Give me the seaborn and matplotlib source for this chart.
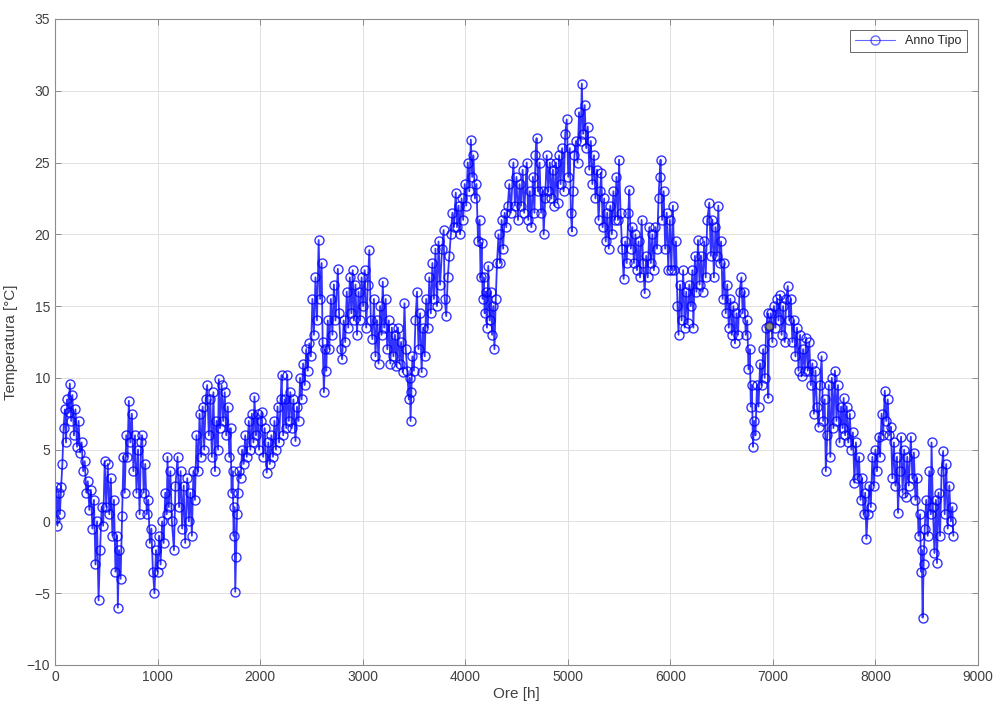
import matplotlib
matplotlib.use("Agg")
import matplotlib.pyplot as plt
import seaborn as sns
import pandas as pd

# Hourly temperature trace of the reference year, as (hour, °C) pairs, by period
gen_mar = [(0, 0.2), (12, 2.4), (24, -0.3), (36, 2.0), (48, 0.5), (60, 2.4), (72, 4.0), (84, 6.5),
           (96, 7.8), (108, 5.5), (120, 8.5), (132, 7.6), (145, 9.6), (158, 7.0), (170, 8.8), (185, 6.0),
           (200, 7.8), (215, 5.2), (230, 7.0), (245, 4.8), (260, 5.5), (275, 3.5), (290, 4.2), (305, 2.0),
           (320, 2.8), (335, 0.8), (350, 2.2), (365, -0.5), (380, 1.5), (395, -3.0), (410, 0.0), (425, -5.5),
           (440, -2.0), (455, 1.0), (470, -0.3), (485, 4.2), (500, 1.0), (515, 4.0), (530, 0.5), (545, 3.0),
           (560, -1.0), (575, 1.5), (590, -3.5), (605, -1.0), (613, -6.0), (625, -2.0), (640, -4.0), (655, 0.4),
           (668, 4.5), (680, 2.0), (695, 6.0), (707, 4.5), (720, 8.4), (735, 5.5), (750, 7.5), (765, 3.5),
           (780, 6.0), (795, 2.0), (810, 5.0), (825, 0.5), (840, 5.5), (850, 6.0), (865, 2.0), (880, 4.0),
           (895, 0.5), (910, 1.5), (925, -1.5), (940, -0.5), (955, -3.5), (970, -5.0), (985, -2.0), (1000, -3.5),
           (1015, -1.0), (1030, -3.0), (1045, 0.0), (1060, -1.5), (1075, 2.0), (1090, 0.5), (1097, 4.5),
           (1110, 1.0), (1125, 3.5), (1140, 0.0), (1160, -2.0), (1175, 2.5), (1195, 4.5), (1210, 1.0),
           (1225, 3.5), (1240, -0.5), (1255, 2.5), (1270, -1.5), (1290, 3.0), (1305, 0.0), (1320, 2.0),
           (1335, -1.0), (1350, 3.5), (1365, 1.5), (1380, 6.0), (1395, 3.5), (1410, 7.5), (1425, 4.5),
           (1440, 8.0), (1455, 5.0), (1470, 8.5), (1484, 9.5), (1500, 6.0)]

mar_mag = [(1515, 8.5), (1530, 4.5), (1545, 9.0), (1560, 3.5), (1575, 7.0), (1590, 5.0), (1597, 9.9),
           (1610, 6.5), (1625, 9.5), (1640, 7.0), (1655, 9.0), (1670, 6.0), (1685, 8.0), (1700, 4.5),
           (1712, 6.5), (1722, 2.0), (1732, 3.5), (1742, -1.0), (1750, 1.0), (1758, -4.9), (1766, -2.5),
           (1775, 0.5), (1785, 2.0), (1795, 3.5), (1810, 3.0), (1825, 5.0), (1840, 4.0), (1855, 6.0),
           (1870, 4.5), (1890, 7.0), (1905, 5.0), (1920, 7.5), (1935, 5.5), (1945, 8.7), (1960, 6.0),
           (1975, 7.5), (1990, 5.0), (2005, 7.0), (2016, 7.6), (2030, 4.5), (2045, 6.5), (2065, 3.4),
           (2080, 5.5), (2095, 4.0), (2110, 6.0), (2125, 4.5), (2140, 7.0), (2155, 5.0), (2170, 8.0),
           (2185, 5.5), (2200, 8.5), (2210, 10.2), (2225, 6.0), (2240, 8.5), (2255, 6.5), (2265, 10.2),
           (2280, 7.0), (2295, 9.0), (2310, 6.5), (2325, 8.5), (2345, 5.6), (2360, 8.0), (2375, 7.0),
           (2390, 10.0), (2405, 8.5), (2420, 11.0), (2435, 9.5), (2450, 12.0), (2465, 10.5), (2480, 12.4),
           (2495, 11.5), (2510, 15.5), (2525, 13.0), (2540, 17.0), (2555, 14.0), (2571, 19.6), (2585, 15.5),
           (2600, 18.0), (2610, 12.5), (2622, 9.0), (2635, 12.0), (2645, 10.5), (2660, 14.0), (2675, 12.0),
           (2690, 15.5), (2705, 13.0), (2720, 16.5), (2735, 14.0), (2758, 17.6), (2770, 14.5), (2785, 12.0),
           (2800, 11.3), (2815, 14.0), (2830, 12.5), (2845, 16.0), (2860, 13.5), (2875, 17.0), (2890, 14.5),
           (2903, 17.5), (2915, 14.0), (2930, 16.5), (2945, 13.0), (2960, 16.0), (2975, 14.0), (2990, 17.0)]

mag_lug = [(3005, 15.0), (3020, 17.5), (3035, 13.5), (3050, 16.5), (3065, 18.9), (3080, 14.0),
           (3095, 12.7), (3110, 15.5), (3125, 11.5), (3140, 14.0), (3155, 11.0), (3170, 15.0), (3185, 13.0),
           (3196, 16.7), (3210, 13.5), (3225, 15.5), (3240, 12.0), (3255, 14.0), (3270, 11.0), (3285, 13.5),
           (3300, 11.5), (3315, 13.0), (3330, 10.8), (3345, 13.5), (3360, 11.0), (3375, 12.5), (3390, 10.4),
           (3408, 15.2), (3420, 12.0), (3435, 10.5), (3450, 8.5), (3460, 10.0), (3467, 7.0), (3475, 9.0),
           (3485, 11.5), (3500, 10.5), (3515, 14.0), (3530, 16.0), (3545, 12.0), (3560, 14.5), (3575, 10.4),
           (3590, 13.5), (3605, 11.5), (3620, 15.5), (3635, 13.5), (3650, 17.0), (3665, 14.5), (3680, 18.0),
           (3695, 15.5), (3710, 19.0), (3725, 15.0), (3740, 19.5), (3755, 16.5), (3775, 19.0), (3790, 20.3),
           (3800, 15.5), (3815, 14.3), (3830, 17.0), (3845, 18.5), (3860, 20.0), (3875, 21.5), (3890, 20.5),
           (3908, 22.9), (3920, 20.5), (3935, 22.0), (3950, 20.0), (3965, 22.5), (3980, 21.0), (3995, 23.5),
           (4010, 22.0), (4025, 25.0), (4040, 23.0), (4055, 26.6), (4068, 24.0), (4080, 25.5), (4095, 22.5),
           (4110, 23.5), (4125, 19.5), (4140, 21.0), (4150, 17.0), (4160, 19.4), (4170, 15.5), (4180, 17.0),
           (4190, 14.5), (4200, 16.0), (4212, 13.5), (4225, 17.8), (4238, 14.0), (4250, 16.0), (4262, 13.0),
           (4275, 15.0), (4285, 12.0), (4298, 15.5), (4310, 18.0), (4325, 20.0), (4340, 18.0), (4355, 21.0),
           (4370, 19.0), (4385, 21.5), (4400, 20.5), (4415, 22.0), (4430, 23.5), (4445, 21.5), (4470, 25.0),
           (4485, 22.0), (4500, 24.0), (4515, 21.0), (4530, 23.5), (4545, 22.0), (4560, 24.5), (4575, 21.5),
           (4600, 25.0)]

lug_set = [(4615, 21.0), (4630, 23.0), (4645, 20.5), (4660, 24.0), (4675, 21.5), (4685, 25.5),
           (4696, 26.7), (4710, 23.0), (4725, 25.0), (4740, 21.5), (4755, 23.0), (4765, 20.0), (4780, 22.5),
           (4795, 25.5), (4810, 23.0), (4825, 25.0), (4840, 22.5), (4855, 24.5), (4870, 22.0), (4885, 25.0),
           (4900, 22.2), (4915, 25.5), (4930, 23.5), (4945, 26.0), (4960, 23.0), (4975, 27.0), (4990, 28.0),
           (5005, 24.0), (5020, 26.0), (5030, 21.5), (5040, 20.2), (5052, 23.0), (5065, 25.5), (5080, 26.5),
           (5095, 25.0), (5110, 28.5), (5125, 26.5), (5137, 30.5), (5150, 27.0), (5165, 29.0), (5180, 26.0),
           (5195, 27.5), (5210, 24.5), (5225, 26.5), (5240, 23.5), (5255, 25.5), (5270, 22.5), (5285, 24.5),
           (5300, 21.0), (5315, 23.0), (5327, 24.3), (5340, 20.5), (5355, 22.5), (5370, 19.5), (5385, 21.5),
           (5400, 19.0), (5415, 22.0), (5430, 20.0), (5445, 23.0), (5460, 21.0), (5475, 24.0), (5490, 21.0),
           (5500, 25.2), (5515, 21.5), (5530, 19.0), (5545, 16.9), (5560, 19.5), (5575, 18.0), (5590, 21.5),
           (5600, 23.1), (5615, 19.0), (5630, 20.5), (5645, 18.0), (5660, 20.0), (5675, 17.5), (5690, 19.5),
           (5705, 17.0), (5720, 21.0), (5735, 18.0), (5750, 15.9), (5765, 18.5), (5780, 17.0), (5795, 20.5),
           (5810, 18.0), (5825, 20.0), (5840, 17.5), (5855, 20.5), (5870, 19.0), (5885, 22.5), (5895, 24.0),
           (5905, 25.2), (5920, 21.0), (5935, 23.0), (5950, 19.0), (5965, 21.5), (5980, 17.5), (5995, 21.0),
           (6010, 17.5), (6025, 22.0), (6040, 17.5), (6055, 19.5), (6070, 15.0), (6080, 13.0)]

set_nov = [(6095, 16.5), (6110, 14.0), (6125, 17.5), (6140, 13.5), (6155, 16.0), (6170, 13.8),
           (6185, 16.5), (6200, 15.0), (6215, 17.5), (6225, 13.5), (6240, 18.5), (6255, 16.0), (6270, 19.6),
           (6285, 16.5), (6300, 18.5), (6315, 16.0), (6330, 19.5), (6345, 17.0), (6360, 21.0), (6380, 22.2),
           (6395, 18.5), (6410, 21.0), (6425, 17.0), (6440, 20.5), (6455, 18.5), (6468, 22.0), (6480, 18.0),
           (6495, 19.5), (6510, 15.5), (6525, 18.0), (6540, 14.5), (6555, 16.5), (6570, 13.5), (6585, 15.5),
           (6600, 13.0), (6615, 15.0), (6630, 12.4), (6645, 14.5), (6660, 13.0), (6675, 16.0), (6693, 17.0),
           (6705, 14.5), (6720, 16.0), (6735, 13.0), (6750, 14.0), (6762, 10.6), (6775, 12.0), (6785, 8.0),
           (6795, 9.5), (6806, 5.2), (6818, 7.0), (6830, 6.0), (6845, 9.5), (6860, 8.0), (6875, 11.0),
           (6890, 9.5), (6905, 12.0), (6920, 10.0), (6935, 13.5), (6950, 14.5), (6955, 8.6), (6962, 13.6),
           (6980, 14.5), (6995, 12.5), (7010, 15.0), (7025, 13.5), (7040, 15.5), (7055, 14.0), (7070, 15.8),
           (7085, 13.0), (7100, 15.0), (7115, 12.5), (7130, 15.5), (7145, 16.4), (7160, 14.0), (7175, 15.5),
           (7190, 12.5), (7205, 14.0), (7220, 11.5), (7235, 13.5), (7250, 10.5), (7265, 13.0), (7280, 10.1),
           (7295, 12.0), (7310, 10.5), (7325, 12.8), (7340, 10.5), (7355, 12.5), (7370, 9.5), (7385, 11.0),
           (7400, 7.5), (7415, 10.5), (7430, 8.0), (7445, 6.6), (7460, 9.5), (7475, 11.5), (7490, 7.0),
           (7505, 8.5), (7516, 3.5), (7530, 6.0), (7545, 9.5), (7560, 4.5), (7575, 10.0), (7590, 6.5)]

nov_dic = [(7605, 10.5), (7620, 7.0), (7635, 9.5), (7650, 5.5), (7665, 8.0), (7680, 6.5), (7690, 8.6),
           (7705, 6.0), (7720, 8.0), (7735, 5.5), (7750, 7.5), (7765, 5.0), (7780, 6.2), (7795, 2.7),
           (7810, 5.5), (7825, 3.0), (7840, 4.5), (7855, 1.5), (7870, 3.0), (7885, 0.5), (7900, 2.0),
           (7912, -1.2), (7925, 0.5), (7940, 2.5), (7955, 1.0), (7970, 4.5), (7985, 2.5), (8000, 5.0),
           (8015, 3.5), (8030, 5.9), (8045, 4.5), (8060, 7.5), (8075, 6.0), (8091, 9.1), (8105, 7.0),
           (8120, 8.5), (8135, 6.0), (8150, 6.6), (8165, 3.0), (8180, 5.5), (8195, 2.5), (8210, 4.5),
           (8220, 0.6), (8235, 3.5), (8250, 5.9), (8265, 2.0), (8280, 5.0), (8295, 1.7), (8310, 4.5),
           (8325, 2.5), (8345, 5.9), (8360, 3.0), (8375, 4.8), (8390, 1.5), (8405, 3.0), (8420, -1.0),
           (8435, 0.5), (8445, -3.5), (8452, -2.0), (8460, -6.7), (8470, -3.0), (8480, -0.5), (8495, 1.5),
           (8510, -1.0), (8525, 3.5), (8540, 0.5), (8547, 5.5), (8560, 1.0), (8575, -2.2), (8590, 1.5),
           (8600, -2.9), (8615, 2.0), (8630, -1.0), (8645, 3.5), (8660, 4.9), (8675, 0.5), (8690, 4.0),
           (8705, -0.5), (8720, 2.5), (8735, 0.0), (8750, 1.0), (8760, -1.0)]

# Sample selected with the data cursor
punto_evidenziato = (6962, 13.6)

x_ticks = [0, 1000, 2000, 3000, 4000, 5000, 6000, 7000, 8000, 9000]
y_ticks = [-10, -5, 0, 5, 10, 15, 20, 25, 30, 35]

serie = gen_mar + mar_mag + mag_lug + lug_set + set_nov + nov_dic
df = pd.DataFrame(serie, columns=["Ore", "Temperatura"])

sns.set_theme(style="white")
plt.rcParams["font.family"] = ["Liberation Sans", "DejaVu Sans"]

fig = plt.figure(figsize=(9.94, 7.06), dpi=100)
ax = fig.add_axes([0.0553, 0.0581, 0.9286, 0.915])

sns.lineplot(data=df, x="Ore", y="Temperatura", sort=False, estimator=None,
             color=(0, 0, 1), linewidth=1.3, marker="o", markersize=6.5,
             markerfacecolor="none", markeredgecolor=(0, 0, 1), markeredgewidth=1.0,
             alpha=0.8, label="Anno Tipo", ax=ax)

ax.plot([punto_evidenziato[0]], [punto_evidenziato[1]], marker="o", markersize=5,
        markerfacecolor="#8a8a8a", markeredgecolor="#3a3a3a", markeredgewidth=0.6,
        linestyle="none", zorder=10)

ax.set_xlim(0, 9000)
ax.set_ylim(-10, 35)
ax.set_xticks(x_ticks)
ax.set_yticks(y_ticks)
ax.set_xlabel("Ore [h]", fontsize=11, color="#404040", labelpad=2)
ax.set_ylabel("Temperatura [°C]", fontsize=11, color="#404040", labelpad=6)

ax.grid(True, color="#e0e0e0", linewidth=0.7)
ax.set_axisbelow(True)
for s in ax.spines.values():
    s.set_visible(True)
    s.set_color("#8c8c8c")
    s.set_linewidth(0.8)
ax.tick_params(axis="both", which="both", direction="in", length=4, width=0.7,
               colors="#8c8c8c", labelcolor="#404040", labelsize=10,
               top=True, right=True, bottom=True, left=True)

leg = ax.legend(loc="upper right", fontsize=9, frameon=True, fancybox=False,
                borderaxespad=0.9, handlelength=3.2, borderpad=0.4)
leg.get_frame().set_edgecolor("#404040")
leg.get_frame().set_linewidth(0.7)
for h in leg.legend_handles:
    h.set_alpha(0.6)
    h.set_linewidth(0.8)

fig.savefig("out.png", dpi=100, facecolor="white")
